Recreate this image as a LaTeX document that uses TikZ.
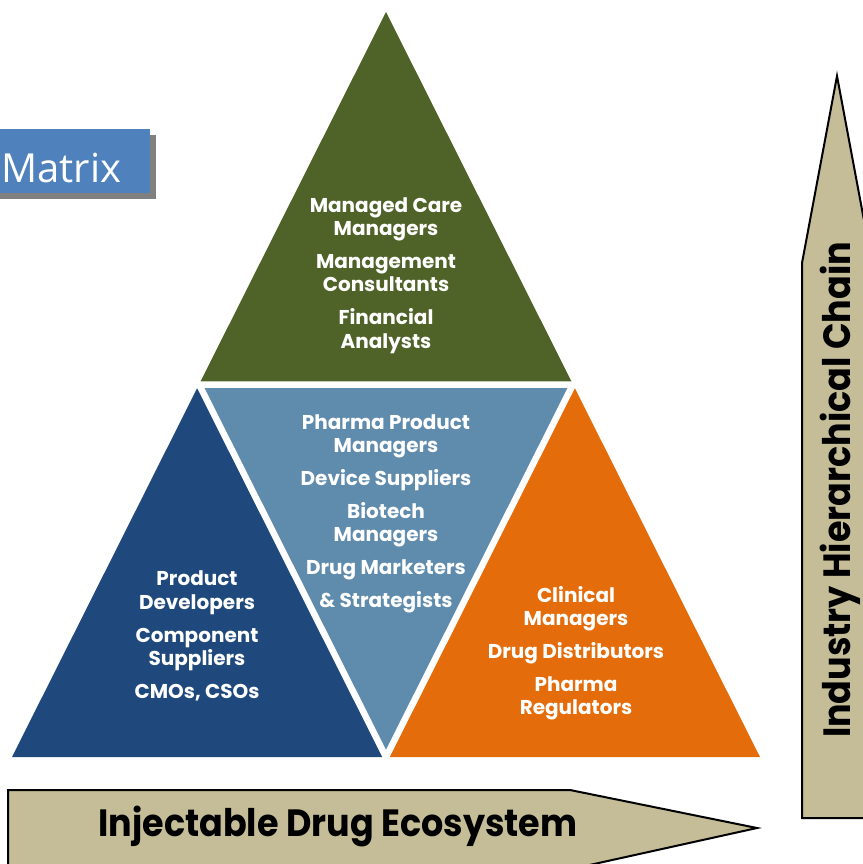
\documentclass[tikz,border=0pt]{standalone}
\usepackage{fontspec}
\setmainfont{Poppins}
\newfontfamily\matfont{Open Sans}
\definecolor{cgreen}{HTML}{4F6228}
\definecolor{cmid}{HTML}{5F8BAD}
\definecolor{cleft}{HTML}{1F497D}
\definecolor{cright}{HTML}{E46C0A}
\definecolor{ctan}{HTML}{C4BD97}
\definecolor{cmat}{HTML}{4F81BD}
\begin{document}
\begin{tikzpicture}[x=1pt,y=-1pt,
  lbl/.style={text=white,font=\fontsize{20}{22}\selectfont\bfseries,inner sep=0pt,anchor=base},
  bigtxt/.style={font=\fontsize{38}{40}\selectfont\bfseries,inner sep=0pt},
  arrowshape/.style={fill=ctan,draw=black,line width=2pt,line join=miter}]
\useasboundingbox (0,0) rectangle (862,864);
% triangle corners
\coordinate (A) at (386,12);
\coordinate (B) at (12,757);
\coordinate (C) at (760,757);
\coordinate (AB) at (199,384.5);
\coordinate (AC) at (573,384.5);
\coordinate (BC) at (386,757);
\fill[cgreen] (A) -- (AB) -- (AC) -- cycle;
\fill[cmid] (AB) -- (AC) -- (BC) -- cycle;
\fill[cleft] (AB) -- (B) -- (BC) -- cycle;
\fill[cright] (AC) -- (BC) -- (C) -- cycle;
\draw[white,line width=6.5pt,line join=miter] (AB) -- (AC) -- (BC) -- cycle;
% Matrix box
\fill[gray] (-10,135) rectangle (156,199);
\fill[cmat] (-10,129) rectangle (150,193);
\node[text=white,font=\matfont\fontsize{40}{42}\selectfont,anchor=base west,inner sep=0pt] (mat) at (1,182) {Matrix};
% vertical arrow
\draw[arrowshape] (880,818) -- (802,818) -- (802,263) -- (837,76) -- (872,263) -- (880,263);
\node[rotate=90,bigtxt] (vert) at (840,490) {\scalebox{0.92}[1]{Industry Hierarchical Chain}};
% bottom arrow
\draw[arrowshape] (580,880) -- (8,880) -- (8,790) -- (570,790) -- (757,828) -- (585,866);
\node[bigtxt] (horiz) at (338,826) {\scalebox{0.92}[1]{Injectable Drug Ecosystem}};
% labels green
\node[lbl] (g1) at (386,212) {Managed Care};
\node[lbl] (g2) at (386,235) {Managers};
\node[lbl] (g3) at (386,268) {Management};
\node[lbl] (g4) at (386,291) {Consultants};
\node[lbl] (g5) at (386,324) {Financial};
\node[lbl] (g6) at (386,348) {Analysts};
% middle
\node[lbl] (m1) at (386,429) {Pharma Product};
\node[lbl] (m2) at (386,452) {Managers};
\node[lbl] (m3) at (386,485) {Device Suppliers};
\node[lbl] (m4) at (386,518) {Biotech};
\node[lbl] (m5) at (386,541) {Managers};
\node[lbl] (m6) at (386,574) {Drug Marketers};
\node[lbl] (m7) at (386,607) {\& Strategists};
% left
\node[lbl] (l1) at (197,585) {Product};
\node[lbl] (l2) at (197,609) {Developers};
\node[lbl] (l3) at (197,642) {Component};
\node[lbl] (l4) at (197,665) {Suppliers};
\node[lbl] (l5) at (197,698) {CMOs, CSOs};
% right
\node[lbl] (r1) at (576,602) {Clinical};
\node[lbl] (r2) at (576,625) {Managers};
\node[lbl] (r3) at (576,658) {Drug Distributors};
\node[lbl] (r4) at (576,691) {Pharma};
\node[lbl] (r5) at (576,714) {Regulators};
\end{tikzpicture}
\end{document}
